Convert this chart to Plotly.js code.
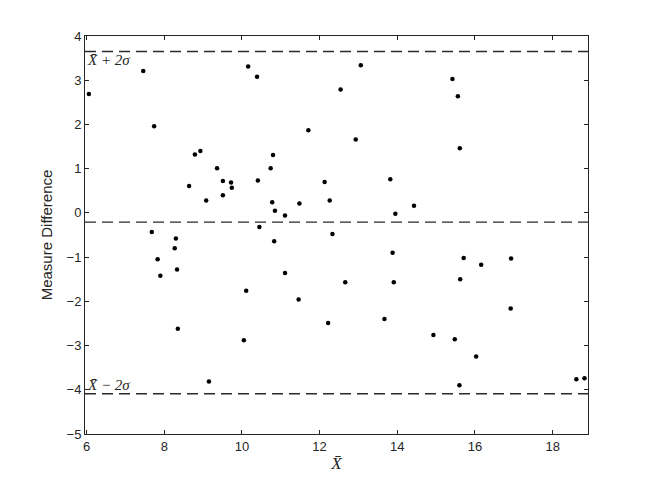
<!DOCTYPE html>
<html>
<head>
<meta charset="utf-8">
<script src="https://cdn.plot.ly/plotly-3.0.1.min.js"></script>
<style>html,body{margin:0;padding:0;background:#fff;} #chart{width:650px;height:488px;}</style>
</head>
<body>
<div id="chart"></div>
<script>
// Data
var xMean = [6.06, 7.46, 7.74, 8.64, 8.79, 8.93, 9.08, 9.36, 9.51, 9.51, 9.72, 9.74,
  10.16, 10.39, 10.41, 10.45, 7.68, 8.30, 8.27, 7.83, 7.90, 8.33, 8.35, 9.15, 10.05, 10.11,
  12.54, 13.06, 11.71, 12.93, 10.80, 10.74, 12.13, 13.82, 10.78, 10.85, 11.11, 11.48, 12.26,
  13.95, 14.43, 12.33, 10.83, 13.88, 11.11, 12.66, 13.91, 11.46, 12.22, 13.67, 14.93,
  15.42, 15.56, 15.61, 15.71, 16.16, 15.62, 16.93, 16.92, 15.48, 16.03, 15.60, 18.61, 18.82];
var yDiff = [2.69, 3.21, 1.96, 0.61, 1.32, 1.40, 0.28, 1.01, 0.72, 0.40, 0.69, 0.57,
  3.31, 3.08, 0.73, -0.32, -0.43, -0.58, -0.80, -1.05, -1.42, -1.28, -2.62, -3.81, -2.88, -1.76,
  2.79, 3.34, 1.87, 1.66, 1.31, 1.01, 0.70, 0.76, 0.24, 0.05, -0.06, 0.21, 0.28,
  -0.02, 0.16, -0.48, -0.64, -0.90, -1.36, -1.57, -1.57, -1.96, -2.49, -2.40, -2.76,
  3.03, 2.64, 1.46, -1.02, -1.17, -1.50, -1.03, -2.16, -2.86, -3.25, -3.90, -3.76, -3.74];
var meanLine = -0.21;
var upperLine = 3.65;
var lowerLine = -4.09;
var xRange = [5.96, 18.91];
var yRange = [-5, 4];
var yTicks = [-5, -4, -3, -2, -1, 0, 1, 2, 3, 4];
var xTicks = [6, 8, 10, 12, 14, 16, 18];
var upperLabel = "X\u0304 + 2\u03C3";
var lowerLabel = "X\u0304 \u2212 2\u03C3";

var lineStyle = {color: '#2a2a2a', width: 1.3, dash: '11px,6px'};
function hline(yv) {
  return {type: 'scatter', mode: 'lines', x: xRange, y: [yv, yv], line: lineStyle,
          hoverinfo: 'skip', showlegend: false};
}

var traces = [
  hline(upperLine), hline(meanLine), hline(lowerLine),
  {type: 'scatter', mode: 'markers', x: xMean, y: yDiff,
   marker: {color: '#000', size: 4.5}, showlegend: false}
];

var axisCommon = {
  showline: true, linecolor: '#262626', linewidth: 1, mirror: 'ticks',
  ticks: 'inside', ticklen: 4, tickcolor: '#262626', showgrid: false, zeroline: false,
  tickfont: {family: 'Liberation Sans, Arial, sans-serif', size: 13, color: '#262626'}
};

var serifItalic = function (s) {
  return {family: 'Liberation Serif, Times New Roman, serif', size: s, color: '#262626', style: 'italic'};
};

var layout = {
  width: 650, height: 488,
  margin: {l: 85, r: 62, t: 36, b: 54, pad: 0},
  paper_bgcolor: '#fff', plot_bgcolor: '#fff',
  showlegend: false,
  xaxis: Object.assign({}, axisCommon, {
    range: xRange, tickvals: xTicks,
    title: {text: 'X\u0304', standoff: 4, font: serifItalic(17)}
  }),
  yaxis: Object.assign({}, axisCommon, {
    range: yRange, tickvals: yTicks,
    title: {text: 'Measure Difference', standoff: 10,
            font: {family: 'Liberation Sans, Arial, sans-serif', size: 15, color: '#262626'}}
  }),
  annotations: [
    {xref: 'paper', x: 0, yref: 'y', y: upperLine, xanchor: 'left', yanchor: 'top',
     text: upperLabel, showarrow: false, yshift: 1, font: serifItalic(15)},
    {xref: 'paper', x: 0, yref: 'y', y: lowerLine, xanchor: 'left', yanchor: 'bottom',
     text: lowerLabel, showarrow: false, yshift: -1, font: serifItalic(15)}
  ]
};

Plotly.newPlot('chart', traces, layout, {displayModeBar: false, staticPlot: true});
</script>
</body>
</html>
